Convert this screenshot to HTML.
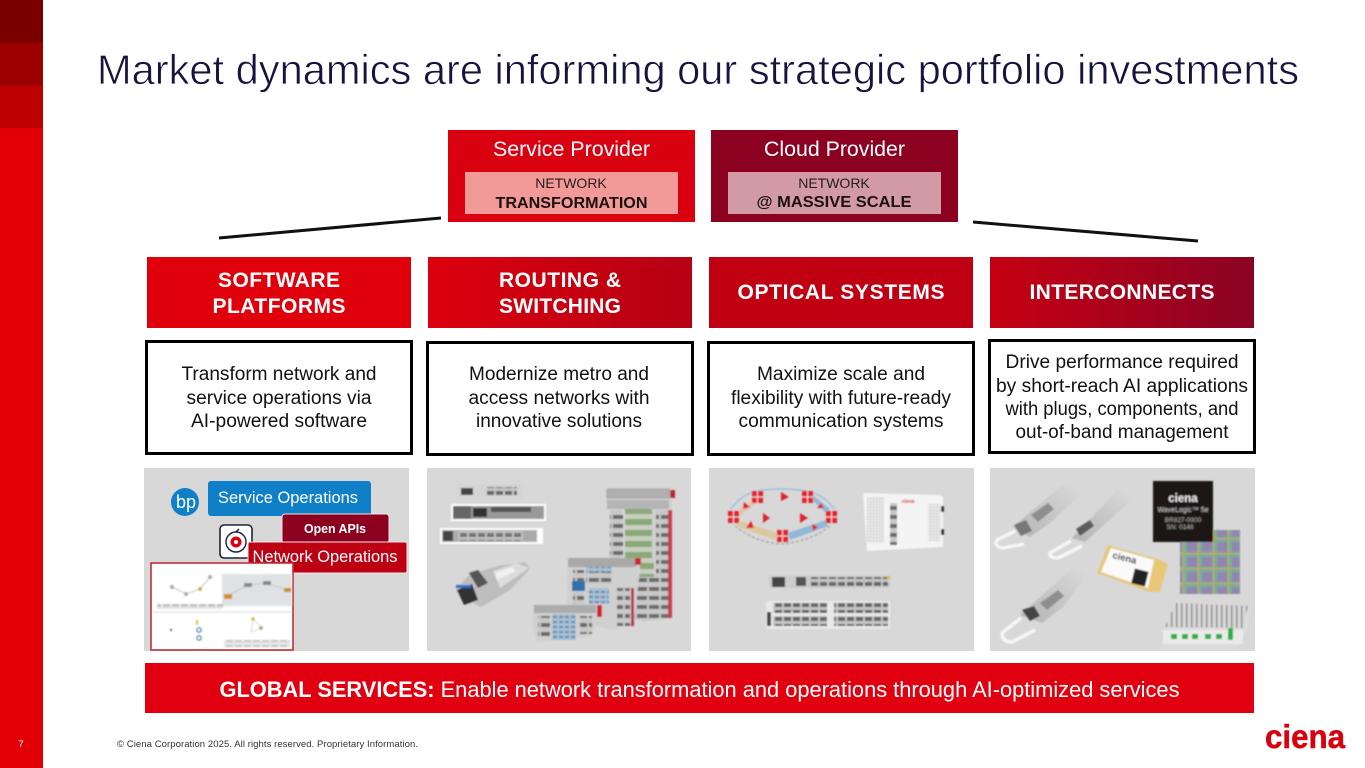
<!DOCTYPE html>
<html><head><meta charset="utf-8"><style>
html,body{margin:0;padding:0;background:#fff;width:1365px;height:768px;overflow:hidden}
svg{display:block}
text{font-family:"Liberation Sans",sans-serif}
</style></head><body>
<svg width="1365" height="768" viewBox="0 0 1365 768" xmlns="http://www.w3.org/2000/svg">
<defs>
<linearGradient id="g2"><stop offset="0" stop-color="#dc000e"/><stop offset="1" stop-color="#b50013"/></linearGradient>
<linearGradient id="g3"><stop offset="0" stop-color="#c10012"/><stop offset="1" stop-color="#c00012"/></linearGradient>
<linearGradient id="g4"><stop offset="0" stop-color="#c60012"/><stop offset="1" stop-color="#8a0325"/></linearGradient>
<linearGradient id="flow"><stop offset="0" stop-color="#e8a8a0"/><stop offset=".5" stop-color="#e0d8a0"/><stop offset="1" stop-color="#6aa8d8"/></linearGradient>
<linearGradient id="silver" x1="0" y1="1" x2="1" y2="0"><stop offset="0" stop-color="#b4b4b4"/><stop offset="1" stop-color="#dadada"/></linearGradient>
<filter id="b" x="-5%" y="-5%" width="110%" height="110%"><feGaussianBlur stdDeviation="0.7"/></filter>
<pattern id="ports" width="9" height="7" patternUnits="userSpaceOnUse"><rect width="9" height="7" fill="#c4c4c4"/><rect x="1" y="1" width="7" height="4" fill="#666"/></pattern>
<pattern id="green" width="26" height="11" patternUnits="userSpaceOnUse"><rect width="26" height="11" fill="#c8cec0"/><rect y="2" width="26" height="6" fill="#8aa878"/></pattern>
<pattern id="blue" width="6" height="5" patternUnits="userSpaceOnUse"><rect width="6" height="5" fill="#a8c0d4"/><rect x="1" y="1" width="4" height="2" fill="#6388aa"/></pattern>
<pattern id="grey" width="12" height="9" patternUnits="userSpaceOnUse"><rect width="12" height="9" fill="#c8c8c8"/><rect x="1" y="2" width="10" height="4" fill="#6a6a6a"/></pattern>
<pattern id="hex" width="3" height="3" patternUnits="userSpaceOnUse"><rect width="3" height="3" fill="#e6e6e6"/><rect width="1" height="1" fill="#b0b0b0"/></pattern>
<pattern id="die" width="15" height="15" patternUnits="userSpaceOnUse"><rect width="15" height="15" fill="#6fb09a"/><rect x="2" y="2" width="10" height="10" fill="#9286ae"/><rect x="13" width="1" height="15" fill="#d8a030"/><rect y="13" width="15" height="1" fill="#d8a030"/></pattern>
<pattern id="fins" width="5" height="4" patternUnits="userSpaceOnUse"><rect width="5" height="4" fill="#d8d8d8"/><rect x="1" width="1.5" height="4" fill="#888"/></pattern>
</defs>

<!-- left rail -->
<rect x="0" y="0" width="43" height="768" fill="#e00006"/>
<rect x="0" y="0" width="43" height="43" fill="#7a0000"/>
<rect x="0" y="43" width="43" height="43" fill="#9c0000"/>
<rect x="0" y="86" width="43" height="42" fill="#bd0000"/>
<text x="21" y="747" font-size="9.5" fill="#fff" text-anchor="middle">7</text>

<!-- title -->
<text x="97" y="84" font-size="42" fill="#15143f" stroke="#fff" stroke-width=".7" textLength="1202" lengthAdjust="spacingAndGlyphs">Market dynamics are informing our strategic portfolio investments</text>

<!-- provider boxes -->
<rect x="448" y="130" width="247" height="92" fill="#d9000f"/>
<rect x="465" y="172" width="213" height="42" fill="#f29a98"/>
<text x="571.5" y="156" font-size="21" fill="#fff" text-anchor="middle" textLength="157" lengthAdjust="spacingAndGlyphs">Service Provider</text>
<text x="571" y="188" font-size="14" fill="#2a1a1a" text-anchor="middle">NETWORK</text>
<text x="571.5" y="208" font-size="16" font-weight="700" fill="#1c1010" text-anchor="middle" textLength="152" lengthAdjust="spacingAndGlyphs">TRANSFORMATION</text>

<rect x="711" y="130" width="247" height="92" fill="#8c0020"/>
<rect x="728" y="172" width="213" height="42" fill="#d19aa5"/>
<text x="834.5" y="156" font-size="21" fill="#fff" text-anchor="middle" textLength="141" lengthAdjust="spacingAndGlyphs">Cloud Provider</text>
<text x="834" y="188" font-size="14" fill="#2a1a1a" text-anchor="middle">NETWORK</text>
<text x="834" y="207" font-size="16" font-weight="700" fill="#1c1010" text-anchor="middle" textLength="155" lengthAdjust="spacingAndGlyphs">@ MASSIVE SCALE</text>

<line x1="219" y1="238" x2="441" y2="218" stroke="#111" stroke-width="3"/>
<line x1="973" y1="222" x2="1198" y2="241" stroke="#111" stroke-width="3"/>

<!-- column headers -->
<rect x="147" y="257" width="264" height="71" fill="#e0000c"/>
<rect x="428" y="257" width="264" height="71" fill="url(#g2)"/>
<rect x="709" y="257" width="264" height="71" fill="url(#g3)"/>
<rect x="990" y="257" width="264" height="71" fill="url(#g4)"/>
<g font-size="21" font-weight="700" fill="#fff" text-anchor="middle">
<text x="279" y="287" textLength="122">SOFTWARE</text>
<text x="279" y="313" textLength="133">PLATFORMS</text>
<text x="560" y="287" textLength="122">ROUTING &amp;</text>
<text x="560" y="313" textLength="122">SWITCHING</text>
<text x="841" y="299" textLength="207">OPTICAL SYSTEMS</text>
<text x="1122" y="299" textLength="185">INTERCONNECTS</text>
</g>

<!-- description boxes -->
<g fill="#fff" stroke="#000" stroke-width="3">
<rect x="146.5" y="341.5" width="265" height="112"/>
<rect x="427.5" y="342.5" width="265" height="112"/>
<rect x="708.5" y="342.5" width="265" height="112"/>
<rect x="989.5" y="340.5" width="265" height="112"/>
</g>
<g font-size="19" fill="#111" text-anchor="middle">
<text x="279" y="380" textLength="195" lengthAdjust="spacingAndGlyphs">Transform network and</text>
<text x="279" y="404" textLength="185" lengthAdjust="spacingAndGlyphs">service operations via</text>
<text x="279" y="427" textLength="176" lengthAdjust="spacingAndGlyphs">AI-powered software</text>
<text x="559" y="380" textLength="180" lengthAdjust="spacingAndGlyphs">Modernize metro and</text>
<text x="559" y="404" textLength="181" lengthAdjust="spacingAndGlyphs">access networks with</text>
<text x="559" y="427" textLength="166" lengthAdjust="spacingAndGlyphs">innovative solutions</text>
<text x="841" y="380" textLength="168" lengthAdjust="spacingAndGlyphs">Maximize scale and</text>
<text x="841" y="404" textLength="220" lengthAdjust="spacingAndGlyphs">flexibility with future-ready</text>
<text x="841" y="427" textLength="205" lengthAdjust="spacingAndGlyphs">communication systems</text>
<text x="1122" y="368" textLength="233" lengthAdjust="spacingAndGlyphs">Drive performance required</text>
<text x="1122" y="392" textLength="252" lengthAdjust="spacingAndGlyphs">by short-reach AI applications</text>
<text x="1122" y="415" textLength="233" lengthAdjust="spacingAndGlyphs">with plugs, components, and</text>
<text x="1122" y="438" textLength="213" lengthAdjust="spacingAndGlyphs">out-of-band management</text>
</g>

<!-- image panels -->
<rect x="144" y="468" width="265" height="183" fill="#d8d8d8"/>
<rect x="427" y="468" width="264" height="183" fill="#d8d8d8"/>
<rect x="709" y="468" width="265" height="183" fill="#d8d8d8"/>
<rect x="990" y="468" width="265" height="183" fill="#d8d8d8"/>

<!-- panel 1: software -->
<circle cx="185" cy="502" r="14" fill="#0f80c8"/>
<text x="186" y="508" font-size="18" fill="#fff" text-anchor="middle">bp</text>
<rect x="208" y="481" width="163" height="35" rx="3" fill="#0f80c8"/>
<text x="288" y="503" font-size="17" fill="#fff" text-anchor="middle" textLength="140" lengthAdjust="spacingAndGlyphs">Service Operations</text>
<rect x="282" y="514" width="107" height="29" rx="3" fill="#8c0020" stroke="#f2e4e4" stroke-width="1"/>
<text x="335" y="533" font-size="13" font-weight="700" fill="#fff" text-anchor="middle" textLength="62" lengthAdjust="spacingAndGlyphs">Open APIs</text>
<rect x="220" y="525" width="32" height="33" rx="4" fill="#fff" stroke="#20203a" stroke-width="1.6"/>
<circle cx="236" cy="542" r="10" fill="none" stroke="#20203a" stroke-width="1.4"/>
<circle cx="236" cy="542" r="5.5" fill="#d9000f"/>
<circle cx="236" cy="542" r="2" fill="#fff"/>
<line x1="236" y1="532" x2="239" y2="529" stroke="#20203a" stroke-width="1.5"/>
<rect x="248" y="542" width="159" height="31" rx="2" fill="#bd0012" stroke="#f2e4e4" stroke-width="1"/>
<text x="325" y="562" font-size="17" fill="#fff" text-anchor="middle" textLength="145" lengthAdjust="spacingAndGlyphs">Network Operations</text>
<rect x="151" y="563" width="142" height="87" fill="#fff" stroke="#c0303a" stroke-width="1.6"/>
<g filter="url(#b)">
<rect x="222" y="574" width="70" height="32" fill="#dfe2e4"/>
<polyline points="172,587 186,594 200,589 210,577" fill="none" stroke="#bbb" stroke-width=".8"/>
<circle cx="172" cy="587" r="2" fill="#aaa"/><circle cx="186" cy="594" r="2" fill="#aaa"/><circle cx="200" cy="589" r="2" fill="#d8b040"/><circle cx="210" cy="577" r="2" fill="#aaa"/>
<polyline points="227,596 248,585 267,583 287,590" fill="none" stroke="#bbb" stroke-width=".8"/>
<rect x="224" y="594" width="8" height="5" fill="#d89020"/><rect x="244" y="583" width="8" height="4" fill="#888"/><rect x="263" y="581" width="8" height="4" fill="#888"/><rect x="284" y="588" width="7" height="4" fill="#c89020"/>
<rect x="157" y="604" width="66" height="5" fill="url(#ports)" opacity=".4"/>
<line x1="152" y1="612" x2="292" y2="612" stroke="#ccc" stroke-width=".8"/>
<circle cx="199" cy="630" r="2.2" fill="none" stroke="#27688c"/><circle cx="199" cy="638" r="2.2" fill="none" stroke="#27688c"/>
<rect x="196" y="620" width="2" height="5" fill="#e0c040"/>
<circle cx="171" cy="630" r="1.2" fill="#668"/>
<polygon points="253,619 262,628 251,632" fill="none" stroke="#ccc" stroke-width=".7"/>
<circle cx="253" cy="619" r="1.8" fill="#c8c040"/><circle cx="261" cy="628" r="1.8" fill="#88b050"/>
<rect x="224" y="640" width="66" height="7" fill="url(#ports)" opacity=".4"/>
</g>

<!-- panel 2: routers -->
<g filter="url(#b)">
<rect x="457" y="484" width="66" height="14" fill="#d4d4d4"/>
<rect x="461" y="488" width="12" height="7" fill="#444"/><rect x="487" y="487" width="30" height="8" fill="url(#ports)"/>
<rect x="451" y="504" width="95" height="17" fill="#fff"/>
<rect x="453" y="506" width="91" height="13" fill="#999"/><rect x="453" y="506" width="18" height="13" fill="#666"/><rect x="473" y="508" width="14" height="9" fill="#333"/><rect x="491" y="507" width="40" height="5" fill="#555"/>
<rect x="440" y="528" width="103" height="16" fill="#fff"/>
<rect x="442" y="530" width="95" height="12" fill="#aaa"/><rect x="443" y="531" width="10" height="10" fill="#444"/><rect x="458" y="531" width="65" height="10" fill="url(#ports)" opacity=".8"/>

<!-- SFP -->
<polygon points="498,566 525,562 530,569 510,590 481,607 459,596 456,589 470,574" fill="#bdbdbd"/>
<polygon points="493,571 517,563 529,568 500,588" fill="#dcdcdc"/>
<polygon points="457,590 472,584 478,600 464,605" fill="#333"/>
<rect x="456" y="585" width="15" height="3" fill="#2c6fd0"/>
<polygon points="469,573 478,570 488,583 478,588" fill="#555"/>
<polygon points="495,573 512,567 516,571 497,580" fill="#f0f0f0"/>

<!-- chassis stack -->
<polygon points="606,488 672,488 672,495 670,619 642,622 640,500 606,500" fill="#d0d0d0"/>
<rect x="607" y="489" width="62" height="9" fill="#b0b0b0" stroke="#888" stroke-width=".5"/>
<rect x="607" y="500" width="62" height="9" fill="#b4b4b4"/>
<rect x="625" y="509" width="27" height="55" fill="url(#green)"/>
<rect x="610" y="510" width="13" height="50" fill="url(#grey)"/>
<rect x="656" y="510" width="12" height="108" fill="url(#grey)"/>
<rect x="634" y="575" width="22" height="45" fill="url(#grey)"/>
<rect x="636" y="562" width="18" height="15" fill="url(#green)"/>
<rect x="670" y="490" width="5" height="8" fill="#c02030"/>
<rect x="668" y="510" width="4" height="108" fill="#c84050"/>

<polygon points="568,558 640,558 640,570 634,622 612,630 566,620" fill="#d0d0d0"/>
<rect x="568" y="558" width="68" height="9" fill="#a8a8a8"/>
<rect x="573" y="570" width="11" height="45" fill="url(#grey)"/>
<rect x="586" y="567" width="26" height="5" fill="url(#blue)"/>
<rect x="586" y="572" width="26" height="12" fill="url(#grey)"/>
<rect x="589" y="588" width="20" height="16" fill="url(#blue)"/>
<rect x="572" y="581" width="13" height="10" fill="#2f6fb0"/>
<rect x="617" y="588" width="13" height="38" fill="url(#grey)"/>
<rect x="631" y="588" width="3" height="38" fill="#c03040"/>
<rect x="635" y="558" width="6" height="7" fill="#d02030"/>

<polygon points="533,605 597,605 597,625 590,636 536,642 533,625" fill="#d0d0d0"/>
<rect x="534" y="605" width="62" height="8" fill="#acacac"/>
<rect x="552" y="614" width="24" height="26" fill="url(#blue)"/>
<rect x="538" y="616" width="12" height="20" fill="url(#grey)"/>
<rect x="580" y="616" width="12" height="18" fill="url(#grey)"/>
<rect x="597" y="605" width="5" height="12" fill="#d02030"/>
</g>

<!-- panel 3: optical -->
<g filter="url(#b)">
<g fill="none" stroke="#7fb6de" stroke-width="1">
<path d="M730 510 Q742 494 757 491"/><path d="M757 491 Q780 487 807 491"/><path d="M807 491 Q825 495 835 510"/>
</g>
<g stroke="url(#flow)" stroke-width="7" fill="none">
<line x1="738" y1="517" x2="828" y2="517"/>
<line x1="762" y1="497" x2="803" y2="497"/>
</g>
<polygon points="740,521 736,526 776,540 778,533" fill="#dcc8a0"/>
<polygon points="788,533 790,540 828,526 826,520" fill="#90b8d8"/>
<polygon points="738,510 754,499 757,503 741,515" fill="#e8c0b0"/>
<polygon points="811,499 814,496 830,509 826,513" fill="#90b8d8"/>
<path d="M735 526 Q755 542 780 544 Q810 542 830 526" fill="none" stroke="#888" stroke-width=".8" stroke-dasharray="3 2"/>
<g fill="#e0202a">
<rect x="728" y="511" width="11" height="12"/><rect x="752" y="491" width="11" height="12"/><rect x="802" y="491" width="11" height="12"/><rect x="826" y="511" width="11" height="12"/><rect x="777" y="530" width="11" height="12"/>
<polygon points="763,513 763,523 770,518"/><polygon points="800,513 800,523 808,518"/>
<polygon points="744,502 750,507 743,509"/><polygon points="781,492 781,501 789,497"/>
<polygon points="821,503 817,508 824,508"/><polygon points="751,521 746,528 754,528"/>
<polygon points="812,524 818,527 813,531"/>
</g>
<g stroke="#fff" stroke-width=".8"><line x1="733.5" y1="511" x2="733.5" y2="523"/><line x1="728" y1="517" x2="739" y2="517"/><line x1="757.5" y1="491" x2="757.5" y2="503"/><line x1="752" y1="497" x2="763" y2="497"/><line x1="807.5" y1="491" x2="807.5" y2="503"/><line x1="802" y1="497" x2="813" y2="497"/><line x1="831.5" y1="511" x2="831.5" y2="523"/><line x1="826" y1="517" x2="837" y2="517"/><line x1="782.5" y1="530" x2="782.5" y2="542"/><line x1="777" y1="536" x2="788" y2="536"/></g>

<polygon points="863,493 940,495 943,497 943,547 867,551" fill="#f4f4f4"/>
<rect x="867" y="497" width="17" height="46" fill="url(#hex)"/>
<rect x="890" y="503" width="7" height="42" fill="url(#grey)"/>
<rect x="928" y="504" width="12" height="37" fill="url(#hex)"/>
<rect x="941" y="506" width="3" height="6" fill="#333"/><rect x="941" y="529" width="3" height="6" fill="#333"/>
<text x="908" y="503" font-size="5" font-weight="700" fill="#d00010" text-anchor="middle">ciena</text>

<rect x="769" y="576" width="121" height="12" fill="#ccc"/>
<rect x="772" y="577" width="13" height="10" fill="#444"/><rect x="796" y="577" width="10" height="9" fill="#555"/><rect x="810" y="577" width="78" height="9" fill="url(#ports)"/>
<rect x="887" y="576" width="3" height="3" fill="#d8c020"/>
<rect x="766" y="601" width="124" height="28" fill="#e8e8e8"/>
<rect x="773" y="603" width="54" height="10" fill="url(#ports)"/><rect x="834" y="603" width="54" height="10" fill="url(#ports)"/>
<rect x="773" y="616" width="54" height="10" fill="url(#ports)"/><rect x="834" y="616" width="54" height="10" fill="url(#ports)"/>
<rect x="767" y="612" width="4" height="14" fill="#444"/>
</g>

<!-- panel 4: interconnects -->
<g filter="url(#b)">
<g fill="url(#silver)">
<polygon points="1060,487 1072,483 1082,493 1050,523 1030,537 1013,527"/>
<polygon points="1118,490 1135,497 1095,533 1085,542 1072,538"/>
<polygon points="1073,568 1088,573 1063,607 1042,623 1020,615"/>
</g>
<polygon points="1031,515 1048,503 1054,509 1038,522" fill="#8e8e8e"/>
<polygon points="1040,603 1058,590 1064,596 1047,610" fill="#8e8e8e"/>
<polygon points="1076,529 1090,520 1094,526 1080,536" fill="#5c5c5c"/>
<polygon points="1014,525 1026,520 1032,531 1021,536" fill="#777"/>
<polygon points="1022,610 1034,606 1040,616 1030,621" fill="#444"/>
<g fill="none" stroke="#f6f6f6" stroke-width="3.5">
<path d="M1015 531 L997 540 Q993 546 1003 548 L1024 544"/>
<path d="M1071 541 L1050 553 Q1049 558 1058 558 L1082 546"/>
<path d="M1021 618 L1002 633 Q1002 642 1012 642 L1035 630"/>
</g>
<rect x="1180" y="530" width="60" height="64" fill="url(#die)"/>
<rect x="1153" y="481" width="60" height="61" fill="#1c1414"/>
<text x="1183" y="502" font-size="11.5" font-weight="700" fill="#eee" text-anchor="middle">ciena</text>
<text x="1183" y="512" font-size="7" fill="#ccc" text-anchor="middle">WaveLogic™ 5e</text>
<text x="1183" y="522" font-size="6.5" fill="#aaa" text-anchor="middle">BR827-0900</text>
<text x="1180" y="529" font-size="6.5" fill="#aaa" text-anchor="middle">SN: 0148</text>
<polygon points="1108,545 1160,560 1168,564 1160,592 1150,592 1097,573" fill="#e8c878"/>
<polygon points="1111,548 1154,560 1148,588 1101,572" fill="#fafafa"/>
<text transform="translate(1112 558) rotate(14)" font-size="9.5" font-weight="700" fill="#222">ciena</text>
<rect x="1133" y="570" width="14" height="15" fill="#222" transform="rotate(14 1140 577)"/>
<polygon points="1175,603 1250,606 1247,632 1235,650 1160,650" fill="#dcdcdc"/>
<polygon points="1176,603 1248,606 1243,628 1165,627" fill="url(#fins)"/>
<rect x="1163" y="630" width="80" height="14" fill="#eaeaea"/>
<g fill="#28b040"><rect x="1171" y="634" width="6" height="5"/><rect x="1182" y="634" width="6" height="5"/><rect x="1192" y="634" width="6" height="5"/><rect x="1205" y="634" width="6" height="5"/><rect x="1216" y="634" width="6" height="5"/><rect x="1228" y="628" width="5" height="12"/></g>
</g>

<!-- global services -->
<rect x="145" y="663" width="1109" height="50" fill="#e0000f"/>
<text x="699.5" y="697" font-size="22" fill="#fff" text-anchor="middle" textLength="960" lengthAdjust="spacingAndGlyphs"><tspan font-weight="700">GLOBAL SERVICES:</tspan> Enable network transformation and operations through AI-optimized services</text>

<!-- footer -->
<text x="117" y="747" font-size="9.5" fill="#333" textLength="301">© Ciena Corporation 2025. All rights reserved. Proprietary Information.</text>
<text x="1305" y="748" font-size="33" font-weight="700" fill="#d9000f" stroke="#d9000f" stroke-width=".5" text-anchor="middle" textLength="80" lengthAdjust="spacingAndGlyphs">ciena</text>
</svg>
</body></html>
